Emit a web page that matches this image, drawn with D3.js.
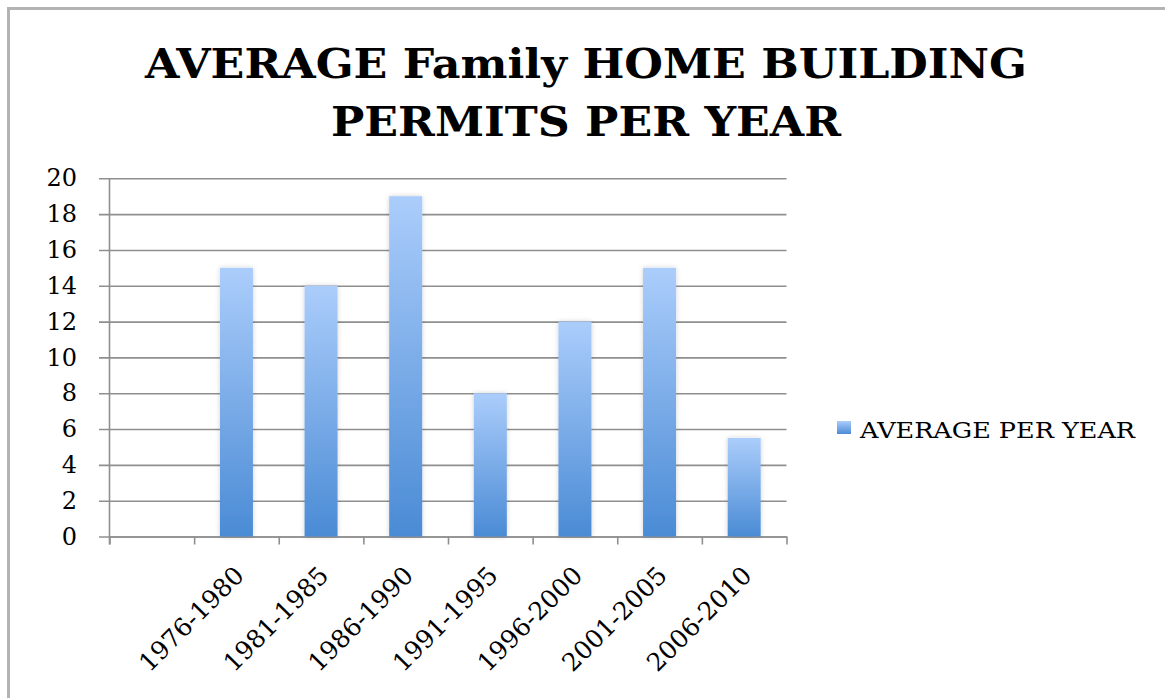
<!DOCTYPE html>
<html>
<head>
<meta charset="utf-8">
<script src="https://cdn.jsdelivr.net/npm/d3@7"></script>
<style>
  html, body { margin: 0; padding: 0; background: #fff; }
  svg { display: block; }
</style>
</head>
<body>
<svg id="chart" width="1165" height="698"></svg>
<script>
// chart values
const categories = ["", "1976-1980", "1981-1985", "1986-1990", "1991-1995", "1996-2000", "2001-2005", "2006-2010"];
const averagePerYear = [null, 15, 14, 19, 8, 12, 15, 5.5];
const yTicks = [0, 2, 4, 6, 8, 10, 12, 14, 16, 18, 20];
const titleLines = ["AVERAGE Family HOME BUILDING", "PERMITS PER YEAR"];
const seriesName = "AVERAGE PER YEAR";

const svg = d3.select("#chart");
const plotLeft = 109.5, plotRight = 786.5, plotTop = 178.3, plotBottom = 536.5;
const serif = "'DejaVu Serif', serif";

// frame (only top and left edges visible in the picture)
svg.append("path")
  .attr("d", "M8.5,698 V8.5 H1165")
  .attr("fill", "none")
  .attr("stroke", "#b3b3b3")
  .attr("stroke-width", 3);

const defs = svg.append("defs");
const grad = defs.append("linearGradient")
  .attr("id", "barGrad")
  .attr("x1", 0).attr("y1", 0).attr("x2", 0).attr("y2", 1);
grad.append("stop").attr("offset", "0%").attr("stop-color", "#abcdfb");
grad.append("stop").attr("offset", "100%").attr("stop-color", "#4a8bd5");

const shadow = defs.append("filter").attr("id", "glow")
  .attr("x", "-30%").attr("y", "-10%").attr("width", "160%").attr("height", "120%");
shadow.append("feDropShadow")
  .attr("dx", 0).attr("dy", 0).attr("stdDeviation", 2.5)
  .attr("flood-color", "#000").attr("flood-opacity", 0.18);

// title, stretched to the width of the original lines
const titleWidths = [882, 510];
svg.selectAll("text.title")
  .data(titleLines)
  .enter()
  .append("text")
  .attr("class", "title")
  .attr("x", 586)
  .attr("y", (d, i) => 78 + i * 58)
  .attr("text-anchor", "middle")
  .attr("textLength", (d, i) => titleWidths[i])
  .attr("lengthAdjust", "spacingAndGlyphs")
  .style("font-family", serif)
  .style("font-weight", "bold")
  .style("font-size", "41px")
  .attr("fill", "#000")
  .text(d => d);

// scales
const x = d3.scaleBand()
  .domain(categories)
  .range([plotLeft, plotRight])
  .paddingInner(0.61)
  .paddingOuter(0.305);

const y = d3.scaleLinear()
  .domain([0, 20])
  .range([plotBottom, plotTop]);

// y gridlines + labels
const yAxis = svg.append("g")
  .attr("transform", "translate(99,0)")
  .call(d3.axisLeft(y).tickValues(yTicks).tickSize(-(plotRight - 99)).tickPadding(22).tickSizeOuter(0));
yAxis.select(".domain").remove();
yAxis.selectAll(".tick line").attr("stroke", "#8f8f8f").attr("stroke-width", 1.6);
yAxis.selectAll(".tick text")
  .style("font-family", serif)
  .style("font-size", "24px")
  .attr("fill", "#000");

// category boundary ticks
const bounds = d3.scaleLinear().domain([0, categories.length]).range([plotLeft, plotRight]);
const xTicks = svg.append("g")
  .attr("transform", "translate(0," + plotBottom + ")")
  .call(d3.axisBottom(bounds).ticks(categories.length).tickFormat("").tickSize(8).tickSizeOuter(0));
xTicks.select(".domain").attr("stroke", "#8f8f8f").attr("stroke-width", 1.6);
xTicks.selectAll(".tick line").attr("stroke", "#8f8f8f").attr("stroke-width", 1.6);

// vertical axis line
svg.append("line")
  .attr("x1", plotLeft).attr("x2", plotLeft)
  .attr("y1", plotTop).attr("y2", plotBottom + 8)
  .attr("stroke", "#8f8f8f").attr("stroke-width", 1.6);

// bars
const barData = categories.map((c, i) => ({ cat: c, value: averagePerYear[i] }))
  .filter(d => d.value != null);
svg.selectAll("rect.bar")
  .data(barData)
  .enter()
  .append("rect")
  .attr("class", "bar")
  .attr("x", d => x(d.cat))
  .attr("y", d => y(d.value))
  .attr("width", x.bandwidth())
  .attr("height", d => plotBottom - y(d.value))
  .attr("fill", "url(#barGrad)")
  .attr("filter", "url(#glow)");

// rotated category labels
svg.selectAll("text.cat")
  .data(categories.filter(c => c !== ""))
  .enter()
  .append("text")
  .attr("class", "cat")
  .attr("text-anchor", "end")
  .attr("transform", d => "translate(" + (x(d) + x.bandwidth() / 2 + 9) + ",577) rotate(-45)")
  .style("font-family", serif)
  .style("font-size", "25px")
  .attr("fill", "#000")
  .text(d => d);

// legend
const legend = svg.append("g").attr("transform", "translate(837,421)");
legend.append("rect")
  .attr("width", 14).attr("height", 13)
  .attr("fill", "url(#barGrad)");
legend.append("text")
  .attr("x", 23)
  .attr("y", 17)
  .attr("textLength", 275)
  .attr("lengthAdjust", "spacingAndGlyphs")
  .style("font-family", serif)
  .style("font-size", "22px")
  .attr("fill", "#000")
  .text(seriesName);
</script>
</body>
</html>
